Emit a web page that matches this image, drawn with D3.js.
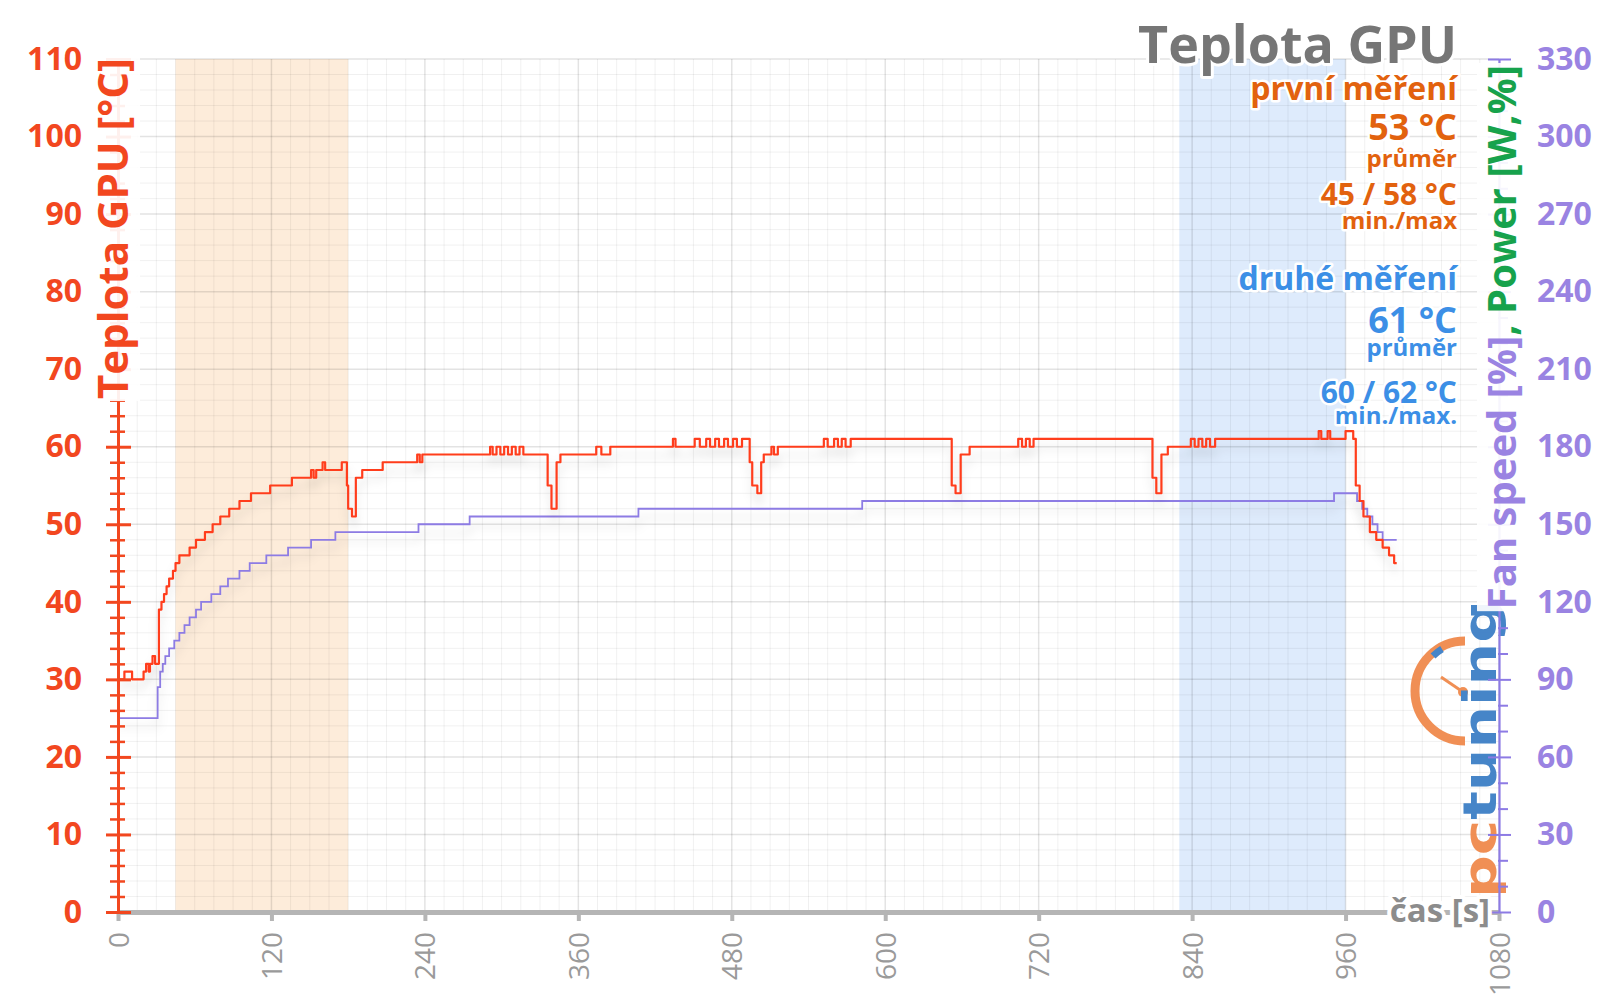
<!DOCTYPE html>
<html>
<head>
<meta charset="utf-8">
<script src="https://cdn.jsdelivr.net/npm/d3@7"></script>
<style>
  html, body { margin: 0; padding: 0; background: #fff; }
  svg { display: block; font-family: "Open Sans", "Noto Sans", sans-serif; }
</style>
</head>
<body>
<svg id="chart" width="1600" height="1007"></svg>
<script>
// ---------------- DATA ----------------
const xTickValues = [0, 120, 240, 360, 480, 600, 720, 840, 960, 1080];
const leftTickValues = [0, 10, 20, 30, 40, 50, 60, 70, 80, 90, 100, 110];
const rightTickValues = [0, 30, 60, 90, 120, 150, 180, 210, 240, 270, 300, 330];

// GPU temperature (°C) – time [s] where the value changes (step series)
const tempTime = [0,5,11,20,22,24,25,27,29,32,34,36,38,40,43,45,48,52,56,61,68,74,80,87,95,104,119,136,151,153,155,160,162,175,179,180,183,186,191,207,234,236,238,291,293,296,299,302,305,308,311,314,317,336,339,343,346,374,378,385,434,436,451,455,460,463,467,470,474,477,481,484,488,494,496,500,503,505,511,513,516,552,555,560,563,566,569,573,652,655,659,666,704,707,710,713,716,809,812,816,821,839,842,845,848,851,854,858,939,941,946,948,960,966,968,971,974,979,984,989,994,998,1000];
const tempValue = [30,31,30,31,32,31,32,33,32,39,40,41,42,43,44,45,46,46,47,48,49,50,51,52,53,54,55,56,57,56,57,58,57,58,55,52,51,56,57,58,59,58,59,60,59,60,59,60,59,60,59,60,59,55,52,58,59,60,59,60,61,60,61,60,61,60,61,60,61,60,61,60,61,58,55,54,58,59,60,59,60,61,60,61,60,61,60,61,55,54,59,60,61,60,61,60,61,56,54,59,60,61,60,61,60,61,60,61,62,61,62,61,62,61,55,53,51,49,48,47,46,45,45];

// Fan speed (right axis units) – step series
const fanTime = [0,31,33,35,37,40,44,48,52,56,61,65,73,80,86,95,103,116,133,151,170,235,275,407,582,951,969,973,977,981,985,989,1000];
const fanValue = [75,87,93,96,99,102,105,108,111,114,117,120,123,126,129,132,135,138,141,144,147,150,153,156,159,162,159,156,153,150,147,144,144];

// Highlighted measurement windows [s]
const bandFirst = [45, 180];
const bandSecond = [830, 960];

// Texts
const chartTitle = "Teplota GPU";
const legendFirst = ["první měření", "53 °C", "průměr", "45 / 58 °C", "min./max"];
const legendSecond = ["druhé měření", "61 °C", "průměr", "60 / 62 °C", "min./max."];
const leftTitle = "Teplota GPU [°C]";
const rightTitleA = "Fan speed [%]";
const rightTitleB = ", Power [W,%]";
const xTitle = "čas [s]";

// ---------------- CHART ----------------
const svg = d3.select("#chart");
const L = 118, R = 1499, T = 59, B = 912;
const x = d3.scaleLinear().domain([0, 1080]).range([L, R]);
const yL = d3.scaleLinear().domain([0, 110]).range([B, T]);
const yR = d3.scaleLinear().domain([0, 330]).range([B, T]);

const RED = "#ff3c1c", RED_AX = "#f2471f", PURPLE = "#8d7be4", PURPLE_TX = "#9a83e2",
      ORANGE_TX = "#e2620e", BLUE_TX = "#3c8fe6", GREEN = "#17a24c", GRAY = "#9a9a9a";

const defs = svg.append("defs");
const f = defs.append("filter").attr("id", "shadow").attr("x", "-5%").attr("y", "-30%").attr("width", "110%").attr("height", "180%");
f.append("feDropShadow").attr("dx", 0).attr("dy", 9).attr("stdDeviation", 5).attr("flood-color", "#000").attr("flood-opacity", 0.13);

// bands
svg.append("rect").attr("x", x(bandFirst[0])).attr("y", T).attr("width", x(bandFirst[1]) - x(bandFirst[0])).attr("height", B - T)
  .attr("fill", "#fde9d4").attr("opacity", 0.85);
svg.append("rect").attr("x", x(bandSecond[0])).attr("y", T).attr("width", x(bandSecond[1]) - x(bandSecond[0])).attr("height", B - T)
  .attr("fill", "#dae9fc").attr("opacity", 0.9);

// grid
const grid = svg.append("g");
grid.selectAll(".vminor").data(d3.range(0, 1081, 15).filter(v => v % 120 !== 0)).join("line")
  .attr("x1", d => x(d)).attr("x2", d => x(d)).attr("y1", T).attr("y2", B)
  .attr("stroke", "#000").attr("stroke-opacity", 0.06).attr("stroke-width", 1);
grid.selectAll(".hminor").data(d3.range(0, 111, 2).filter(v => v % 10 !== 0)).join("line")
  .attr("x1", L).attr("x2", R).attr("y1", d => yL(d)).attr("y2", d => yL(d))
  .attr("stroke", "#000").attr("stroke-opacity", 0.06).attr("stroke-width", 1);
grid.selectAll(".vmajor").data(xTickValues.slice(1)).join("line")
  .attr("x1", d => x(d)).attr("x2", d => x(d)).attr("y1", T).attr("y2", B)
  .attr("stroke", "#000").attr("stroke-opacity", 0.11).attr("stroke-width", 1.5);
grid.selectAll(".hmajor").data(leftTickValues.slice(1)).join("line")
  .attr("x1", L).attr("x2", R).attr("y1", d => yL(d)).attr("y2", d => yL(d))
  .attr("stroke", "#000").attr("stroke-opacity", 0.11).attr("stroke-width", 1.5);

// logo (decorative)
const logo = svg.append("g").attr("opacity", 0.95);
logo.append("path").attr("d", "M1465,641 A50,50 0 0 0 1465,741").attr("fill", "none").attr("stroke", "#f08a4c").attr("stroke-width", 9);
logo.append("path").attr("d", "M1433,656 A50,50 0 0 1 1442,649").attr("fill", "none").attr("stroke", "#3d7fc6").attr("stroke-width", 7);
logo.append("line").attr("x1", 1441).attr("y1", 677).attr("x2", 1463).attr("y2", 692).attr("stroke", "#f08a4c").attr("stroke-width", 3);
logo.append("circle").attr("cx", 1463).attr("cy", 692).attr("r", 5).attr("fill", "#f08a4c");
const lt = logo.append("text").attr("transform", "translate(1496,898) rotate(-90)")
  .attr("font-family", "DejaVu Sans, sans-serif").attr("font-weight", 700).attr("font-size", 46)
  .attr("textLength", 298).attr("lengthAdjust", "spacingAndGlyphs");
lt.append("tspan").attr("fill", "#f08a4c").text("pc");
lt.append("tspan").attr("fill", "#3d7fc6").text("tuning");

// lines
const tempData = tempTime.map((t, i) => [t, tempValue[i]]);
const fanData = fanTime.map((t, i) => [t, fanValue[i]]);
svg.append("path").datum(fanData)
  .attr("d", d3.line().x(d => x(d[0])).y(d => yR(d[1])).curve(d3.curveStepAfter))
  .attr("fill", "none").attr("stroke", PURPLE).attr("stroke-width", 1.8).attr("filter", "url(#shadow)");
svg.append("path").datum(tempData)
  .attr("d", d3.line().x(d => x(d[0])).y(d => yL(d[1])).curve(d3.curveStepAfter))
  .attr("fill", "none").attr("stroke", RED).attr("stroke-width", 2.2).attr("stroke-linejoin", "round").attr("filter", "url(#shadow)");

// x axis
const gx = svg.append("g").attr("transform", `translate(0,${B})`)
  .call(d3.axisBottom(x).tickValues(xTickValues).tickFormat(d3.format("d")).tickSize(9).tickSizeOuter(0));
gx.select(".domain").attr("stroke", "#b5b5b5").attr("stroke-width", 5);
gx.selectAll(".tick line").attr("stroke", "#b5b5b5").attr("stroke-width", 4);
gx.selectAll(".tick text").attr("transform", "rotate(-90)").attr("x", -20).attr("y", 0).attr("dy", "0.36em")
  .attr("text-anchor", "end").attr("fill", GRAY).attr("font-size", 28).attr("font-family", "Open Sans, sans-serif");

// left axis
const gl = svg.append("g").attr("transform", `translate(${L},0)`);
gl.call(d3.axisLeft(yL).tickValues(d3.range(0, 111, 2).filter(v => v % 10 !== 0)).tickSize(8).tickFormat("").tickSizeOuter(0));
gl.selectAll(".tick line").attr("x1", 7).attr("stroke", RED_AX).attr("stroke-width", 2.5);
gl.select(".domain").remove();
const gl2 = svg.append("g").attr("transform", `translate(${L},0)`)
  .call(d3.axisLeft(yL).tickValues(leftTickValues).tickSize(12).tickPadding(24).tickSizeOuter(0));
gl2.select(".domain").attr("stroke", RED_AX).attr("stroke-width", 3);
gl2.selectAll(".tick line").attr("x1", 13).attr("stroke", RED_AX).attr("stroke-width", 3);
gl2.selectAll(".tick text").attr("fill", RED_AX).attr("font-size", 32).attr("font-weight", 700).attr("font-family", "Open Sans, sans-serif");

// right axis
const gr = svg.append("g").attr("transform", `translate(${R},0)`);
gr.call(d3.axisRight(yR).tickValues(d3.range(0, 331, 10).filter(v => v % 30 !== 0)).tickSize(9).tickFormat("").tickSizeOuter(0));
gr.selectAll(".tick line").attr("x1", -1).attr("stroke", PURPLE).attr("stroke-width", 2);
gr.select(".domain").remove();
const gr2 = svg.append("g").attr("transform", `translate(${R},0)`)
  .call(d3.axisRight(yR).tickValues(rightTickValues).tickSize(12).tickPadding(26).tickSizeOuter(0));
gr2.select(".domain").attr("stroke", PURPLE).attr("stroke-width", 2.2);
gr2.selectAll(".tick line").attr("x1", -11).attr("stroke", PURPLE).attr("stroke-width", 2);
gr2.selectAll(".tick text").attr("fill", PURPLE_TX).attr("font-size", 32).attr("font-weight", 700).attr("font-family", "Open Sans, sans-serif");

// axis titles on a white label box (hides the axis line behind them)
const haloW = (sel, w) => sel.attr("stroke", "#fff").attr("stroke-width", w).attr("stroke-linejoin", "round").attr("paint-order", "stroke");
function boxed(g, textSel, pad) {
  const bb = textSel.node().getBBox();
  g.insert("rect", "text").attr("x", bb.x - pad).attr("y", bb.y + 4).attr("width", bb.width + 2 * pad).attr("height", bb.height - 4)
    .attr("fill", "#fff").attr("opacity", 0.92);
}
const glt = svg.append("g").attr("transform", `translate(128,58) rotate(-90)`);
const ltT = glt.append("text").attr("text-anchor", "end")
  .attr("font-size", 42).attr("font-weight", 700).attr("fill", RED_AX).text(leftTitle);
boxed(glt, ltT, 2);
const grt = svg.append("g").attr("transform", `translate(1516,65) rotate(-90)`);
const rt = grt.append("text").attr("text-anchor", "end").attr("font-size", 40).attr("font-weight", 700);
rt.append("tspan").attr("fill", PURPLE_TX).text(rightTitleA);
rt.append("tspan").attr("fill", GREEN).text(rightTitleB);
boxed(grt, rt, 2);

svg.append("text").attr("x", 1490).attr("y", 922).attr("text-anchor", "end")
  .attr("font-size", 33).attr("font-weight", 700).attr("fill", "#8c8c8c").call(haloW, 8).text(xTitle);

// title & legend
svg.append("text").attr("x", 1457).attr("y", 63).attr("text-anchor", "end")
  .attr("font-size", 52).attr("font-weight", 700).attr("fill", "#767676").call(haloW, 6).text(chartTitle);

const legSizes = [32, 36, 24, 30, 24];
const legY1 = [100, 140, 167, 205, 229];
const legY2 = [290, 333, 356, 403, 424];
legendFirst.forEach((s, i) => svg.append("text").attr("x", 1457).attr("y", legY1[i]).attr("text-anchor", "end")
  .attr("font-size", legSizes[i]).attr("font-weight", 700).attr("fill", ORANGE_TX).call(haloW, 5).text(s));
legendSecond.forEach((s, i) => svg.append("text").attr("x", 1457).attr("y", legY2[i]).attr("text-anchor", "end")
  .attr("font-size", legSizes[i]).attr("font-weight", 700).attr("fill", BLUE_TX).call(haloW, 5).text(s));
</script>
</body>
</html>
